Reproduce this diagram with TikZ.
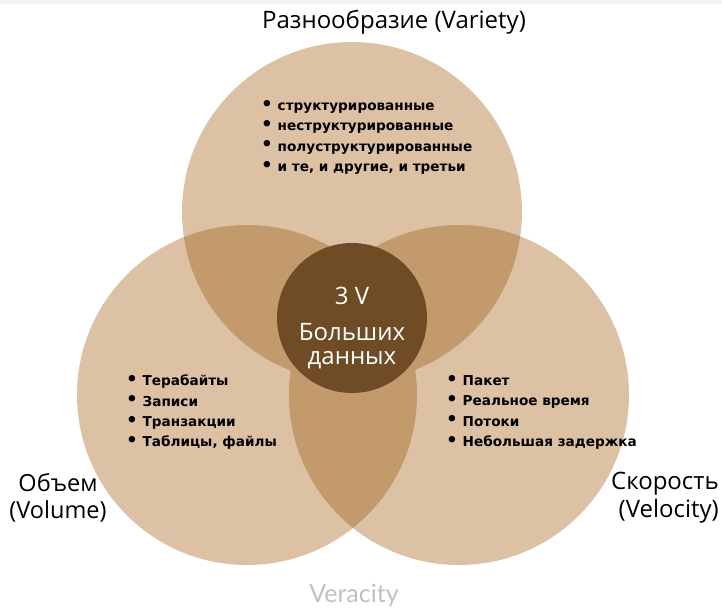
\documentclass[tikz,border=0pt]{standalone}
\usepackage{fontspec}
\usepackage{graphicx}
\setmainfont{Open Sans}
\newfontfamily\verafont{Lato}
\newfontfamily\listfont{DejaVu Sans}
\definecolor{lightc}{HTML}{DCC1A5}
\definecolor{overc}{HTML}{C29A6C}
\definecolor{centc}{HTML}{6F4C26}
\definecolor{stripc}{HTML}{F2F2F2}
\definecolor{verac}{HTML}{C0C0C0}
\newcommand{\bul}{\raisebox{0.05ex}{\scalebox{1.35}{\textbullet}}\hspace{0.35em}}
\tikzset{
  listtxt/.style={align=left, font=\listfont\bfseries\fontsize{13.6}{20.3}\selectfont, inner sep=0pt},
  ttl/.style={font=\fontsize{24}{28}\selectfont, inner sep=0pt, align=center},
}
\begin{document}
\begin{tikzpicture}[x=1pt,y=-1pt]
\useasboundingbox (0,0) rectangle (722,608);
\fill[stripc] (0,0) rectangle (722,4);
% circles
\fill[lightc] (352,212) circle (170);
\fill[lightc] (247,395) circle (170);
\fill[lightc] (459,395) circle (170);
\begin{scope}
  \clip (352,212) circle (170);
  \fill[overc] (247,395) circle (170);
  \fill[overc] (459,395) circle (170);
\end{scope}
\begin{scope}
  \clip (247,395) circle (170);
  \fill[overc] (459,395) circle (170);
\end{scope}
\fill[centc] (352,318) circle (75);
% center text
\node[ttl, text=white] (v3) at (352,296) {3 V};
\node[ttl, text=white, font=\fontsize{24}{24.5}\selectfont] (bd) at (352,346) {Больших\\данных};
% titles
\node[ttl] (var) at (394,22) {Разнообразие (Variety)};
\node[ttl, font=\fontsize{23.5}{27.5}\selectfont] (vol) at (58,498) {Объем\\(Volume)};
\node[ttl, align=right, anchor=east] (vel) at (719,498) {Скорость\\(Velocity)};
\node[ttl, text=verac, font=\verafont\fontsize{25}{30}\selectfont] (ver) at (354,596) {Veracity};
% lists
\node[listtxt, anchor=north west] (lvar) at (261,100) {\bul структурированные\\\bul неструктурированные\\\bul полуструктурированные\\\bul и те, и другие, и третьи};
\node[listtxt, anchor=north west] (lvol) at (126,375) {\bul Терабайты\\\bul Записи\\\bul Транзакции\\\bul Таблицы, файлы};
\node[listtxt, anchor=north west] (lvel) at (446,375) {\bul Пакет\\\bul Реальное время\\\bul Потоки\\\bul Небольшая задержка};
\end{tikzpicture}
\end{document}
